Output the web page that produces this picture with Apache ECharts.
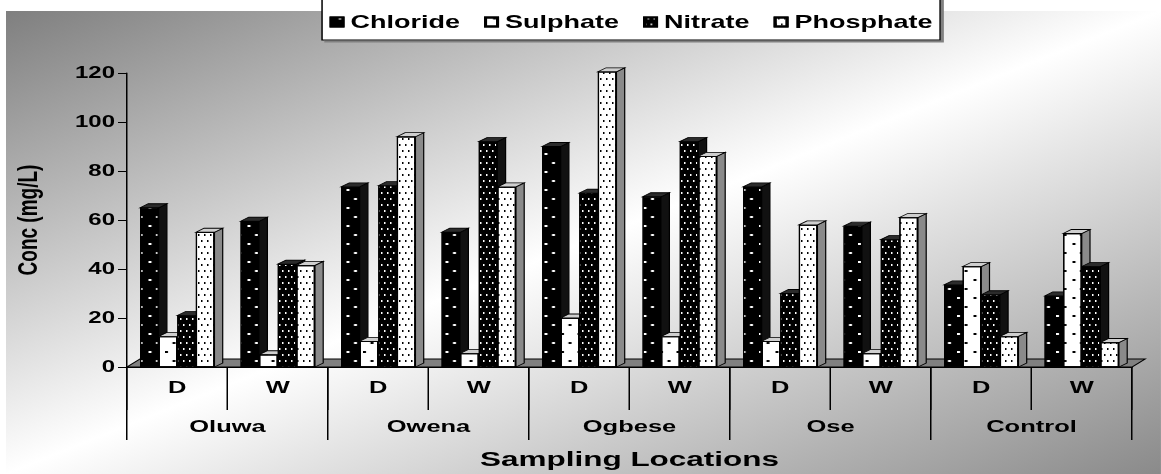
<!DOCTYPE html>
<html>
<head>
<meta charset="utf-8">
<script src="https://cdn.jsdelivr.net/npm/echarts@6/dist/echarts.min.js"></script>
<style>
  html, body { margin: 0; padding: 0; background: #fff; overflow: hidden; }
  /* the chart is laid out narrow and widened horizontally as a whole */
  #chart { width: 774px; height: 474px; transform: scaleX(1.5); transform-origin: 0 0; }
</style>
</head>
<body>
<div id="chart"></div>
<script>
// ---- data ----
const locations = ['Oluwa', 'Owena', 'Ogbese', 'Ose', 'Control'];
const seasons = ['D', 'W'];
const seriesNames = ['Chloride', 'Sulphate', 'Nitrate', 'Phosphate'];
// concentrations (mg/L), one value per location/season pair
const chloride  = [65, 59.5, 73.5, 55, 90, 69.5, 73.5, 57.5, 33.5, 29];
const sulphate  = [12.5, 5, 10.5, 5.5, 20, 12.5, 10.5, 5.5, 41, 54.5];
const nitrate   = [21, 42, 74, 92, 71, 92, 30, 52, 29.5, 41];
const phosphate = [55, 41.5, 94, 73.5, 120.5, 86, 58, 61, 12.5, 10];
const yMin = 0, yMax = 120, yStep = 20;

// ---- drawing constants ----
const FONT = "'Liberation Sans', Arial, sans-serif";
const BAR_W = 12.4;          // front face width
const DX = 5.5, DY = 4;      // bar depth
const FLOOR_DX = 8.7, FLOOR_DY = 8;

const sampleLabels = locations.flatMap(() => seasons);
const valueSets = [chloride, sulphate, nitrate, phosphate];

const sparseDots = c => ({
  symbol: 'rect', symbolSize: 1, color: c,
  dashArrayX: [[1.5, 8.5], [0, 5, 1.5, 3.5]],
  dashArrayY: [1.5, 6.5]
});
const denseDots = c => ({
  symbol: 'rect', symbolSize: 1, color: c,
  dashArrayX: [[1, 2.5, 1, 2.5], [0, 1.75, 1, 2.5, 1, 0.75]],
  dashArrayY: [1.5, 3.5]
});

const looks = [
  { fill: '#000', decal: sparseDots('#fff'), side: '#111', top: '#2b2b2b' },
  { fill: '#fff', decal: sparseDots('#000'), side: '#8a8a8a', top: '#cfcfcf' },
  { fill: '#000', decal: denseDots('#fff'),  side: '#111', top: '#2b2b2b' },
  { fill: '#fff', decal: denseDots('#000'),  side: '#8a8a8a', top: '#cfcfcf' }
];

// side and top faces of each bar, placed from the same axis scales as the bars
function faceRenderer(i) {
  return function (params, api) {
    const k = api.value(0), v = api.value(1);
    const top = api.coord([k, v]);
    const base = api.coord([k, 0]);
    const xL = top[0] - 2 * BAR_W + i * BAR_W;
    const xR = xL + BAR_W;
    const yT = top[1], yB = base[1];
    return {
      type: 'group',
      children: [
        { type: 'polygon',
          shape: { points: [[xR, yT], [xR + DX, yT - DY], [xR + DX, yB - DY], [xR, yB]] },
          style: { fill: looks[i].side, stroke: '#000', lineWidth: 0.8 } },
        { type: 'polygon',
          shape: { points: [[xL, yT], [xL + DX, yT - DY], [xR + DX, yT - DY], [xR, yT]] },
          style: { fill: looks[i].top, stroke: '#000', lineWidth: 0.8 } }
      ]
    };
  };
}

// grey floor slab under the bars
function floorRenderer(params) {
  const cs = params.coordSys;
  const x0 = cs.x, x1 = cs.x + cs.width, y0 = cs.y + cs.height;
  return {
    type: 'polygon',
    shape: { points: [[x0, y0], [x1, y0], [x1 + FLOOR_DX, y0 - FLOOR_DY], [x0 + FLOOR_DX, y0 - FLOOR_DY]] },
    style: { fill: '#808080', stroke: '#000', lineWidth: 1 }
  };
}

const series = [{
  type: 'custom', silent: true, clip: false,
  renderItem: floorRenderer, data: [0], z: 1
}];
valueSets.forEach((vals, i) => {
  series.push({
    type: 'custom', silent: true, clip: false,
    renderItem: faceRenderer(i),
    encode: { x: 0, y: 1 },
    data: vals.map((v, k) => [k, v])
  });
  series.push({
    type: 'bar', name: seriesNames[i], data: vals,
    barWidth: BAR_W, barGap: '0%', clip: false, silent: true,
    itemStyle: { color: looks[i].fill, borderColor: '#000', borderWidth: 0.8, decal: looks[i].decal },
    emphasis: { disabled: true }
  });
});

const chart = echarts.init(document.getElementById('chart'), null, { renderer: 'svg' });
chart.setOption({
  animation: false,
  graphic: [{
    type: 'rect', z: -100, silent: true,
    x: 4, y: 11, scaleX: 770 / 463,
    shape: { x: 0, y: 0, width: 463, height: 463 },
    style: {
      fill: new echarts.graphic.LinearGradient(0, 0, 1, 1, [
        { offset: 0, color: '#7f7f7f' },
        { offset: 0.5, color: '#ffffff' },
        { offset: 1, color: '#8a8a8a' }
      ])
    }
  }],
  legend: {
    data: seriesNames,
    left: 214.7, top: -10,
    padding: [23, 5, 9, 5],
    itemGap: 16, itemWidth: 8, itemHeight: 9,
    icon: 'rect',
    selectedMode: false,
    backgroundColor: '#fff',
    borderColor: '#000', borderWidth: 1,
    shadowColor: '#808080', shadowOffsetX: 2, shadowOffsetY: 2, shadowBlur: 0,
    textStyle: { fontFamily: FONT, fontWeight: 'bold', fontSize: 18, color: '#000' }
  },
  grid: { left: 84.67, right: 19.33, top: 73, bottom: 107, containLabel: false, outerBoundsMode: 'none' },
  xAxis: [{
    type: 'category', data: sampleLabels, position: 'bottom',
    axisLine: { show: true, lineStyle: { color: '#000', width: 1 } },
    axisTick: { show: true, interval: 0, length: 43, lineStyle: { color: '#000', width: 1 } },
    axisLabel: { interval: 0, margin: 12, fontFamily: FONT, fontWeight: 'bold', fontSize: 17, color: '#000' },
    splitLine: { show: false }
  }, {
    type: 'category', data: locations, position: 'bottom',
    axisLine: { show: false },
    axisTick: { show: true, interval: 0, length: 73, lineStyle: { color: '#000', width: 1 } },
    axisLabel: { interval: 0, margin: 51, fontFamily: FONT, fontWeight: 'bold', fontSize: 17, color: '#000' },
    splitLine: { show: false },
    name: 'Sampling Locations', nameLocation: 'middle', nameGap: 81, nameMoveOverlap: false,
    nameTextStyle: { fontFamily: FONT, fontWeight: 'bold', fontSize: 21, color: '#000' }
  }],
  yAxis: {
    type: 'value', min: yMin, max: yMax, interval: yStep,
    axisLine: { show: true, lineStyle: { color: '#000', width: 1 } },
    axisTick: { show: true, length: 6, lineStyle: { color: '#000', width: 1 } },
    axisLabel: { margin: 8, fontFamily: FONT, fontWeight: 'bold', fontSize: 16, color: '#000' },
    splitLine: { show: false },
    name: 'Conc (mg/L)', nameLocation: 'middle', nameGap: 57, nameMoveOverlap: false,
    nameTextStyle: { fontFamily: FONT, fontWeight: 'bold', fontSize: 19, color: '#000' }
  },
  series: series
});
</script>
</body>
</html>
